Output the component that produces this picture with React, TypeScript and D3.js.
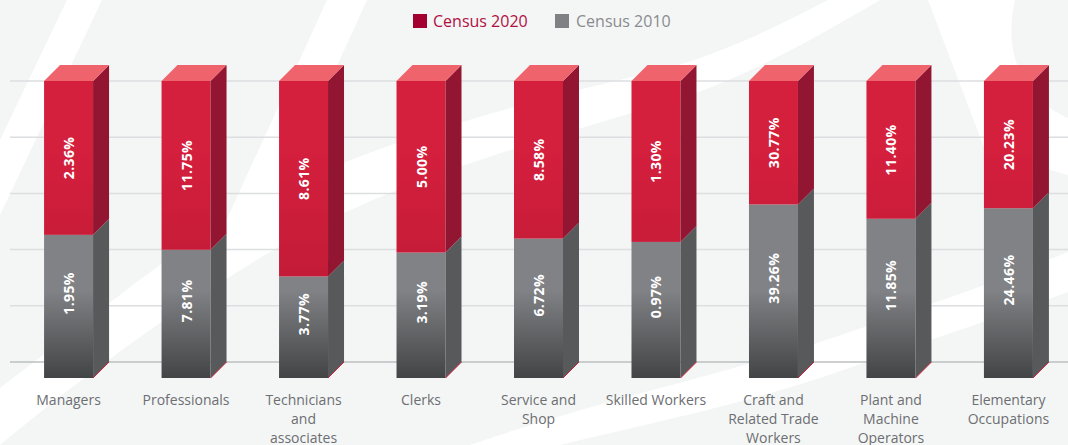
import React from "react";
import * as d3 from "d3";

const categories = [
  "Managers",
  "Professionals",
  "Technicians\nand\nassociates",
  "Clerks",
  "Service and\nShop",
  "Skilled Workers",
  "Craft and\nRelated Trade\nWorkers",
  "Plant and\nMachine\nOperators",
  "Elementary\nOccupations",
];
const census2020 = [2.36, 11.75, 8.61, 5.0, 8.58, 1.3, 30.77, 11.4, 20.23];
const census2010 = [1.95, 7.81, 3.77, 3.19, 6.72, 0.97, 39.26, 11.85, 24.46];
const seriesNames = ["Census 2020", "Census 2010"];
const gridTicks = [0, 20, 40, 60, 80, 100];

const W = 1068;
const H = 445;
const DEPTH = 16;

export default function App() {
  const x = d3
    .scaleBand<string>()
    .domain(categories)
    .range([10, 1067])
    .paddingInner(0.583)
    .paddingOuter(0.29);
  const y = d3.scaleLinear().domain([0, 100]).range([362, 81]);
  const bw = x.bandwidth();
  const base = y(0) + DEPTH; // front bottom
  const top = y(100);

  const bars = categories.map((c, i) => {
    const total = census2020[i] + census2010[i];
    const grayShare = (census2010[i] / total) * 100;
    return { c, i, x0: x(c) as number, yg: y(grayShare) };
  });

  const poly = (pts: number[][]) => pts.map((p) => p.join(",")).join(" ");

  return (
    <svg
      width={W}
      height={H}
      style={{ position: "absolute", left: 0, top: 0, display: "block" }}
      fontFamily="'Open Sans', 'Noto Sans', sans-serif"
    >
      <defs>
        <linearGradient id="grayFront" gradientUnits="userSpaceOnUse" x1="0" y1="290" x2="0" y2="378">
          <stop offset="0" stopColor="#818285" />
          <stop offset="1" stopColor="#434446" />
        </linearGradient>
        <linearGradient id="redFront" gradientUnits="userSpaceOnUse" x1="0" y1="150" x2="0" y2="285">
          <stop offset="0" stopColor="#d41f3d" />
          <stop offset="1" stopColor="#c21b37" />
        </linearGradient>
      </defs>
      <rect x={0} y={0} width={W} height={H} fill="#f4f6f6" />
      {/* decorative background stripes */}
      <g fill="#ffffff">
        <polygon points={poly([[67, 0], [102, 0], [0, 215], [0, 140]])} />
        <polygon points={poly([[327, 0], [367, 0], [262, 230], [222, 230]])} />
        <path d="M0,388 C90,320 170,250 260,200 C400,130 560,95 660,70 C720,55 780,25 828,0 L880,0 C820,35 760,70 690,95 C580,130 420,170 300,235 C200,290 90,370 0,445 Z" />
        <path d="M470,445 C600,400 720,375 811,345 C900,315 990,285 1068,252 L1068,292 C990,320 900,350 820,378 C720,410 620,430 560,445 Z" />
        <path d="M928,0 L1015,0 C1002,55 1025,100 1068,118 L1068,175 C1030,165 1000,150 985,150 Z" />
      </g>
      {/* gridlines */}
      <g>
        {gridTicks.map((t) => (
          <line
            key={t}
            x1={10}
            x2={W}
            y1={y(t)}
            y2={y(t)}
            stroke={t === 0 ? "#bdbfc1" : "#dcdedf"}
            strokeWidth={1.5}
          />
        ))}
      </g>
      {/* bars */}
      {bars.map(({ c, i, x0, yg }) => {
        const x1 = x0 + bw;
        const cx = x0 + bw / 2;
        const redMid = (top + yg) / 2;
        const grayMid = (yg + y(0)) / 2 - 5;
        return (
          <g key={c}>
            <rect x={x0} y={yg} width={bw} height={base - yg} fill="url(#grayFront)" />
            <rect x={x0} y={top} width={bw} height={yg - top} fill="url(#redFront)" />
            <polygon
              points={poly([[x1, yg], [x1 + DEPTH, yg - DEPTH], [x1 + DEPTH, base - DEPTH], [x1, base]])}
              fill="#58595b"
            />
            <polygon
              points={poly([[x1, top], [x1 + DEPTH, top - DEPTH], [x1 + DEPTH, yg - DEPTH], [x1, yg]])}
              fill="#921631"
            />
            <line x1={x1} y1={base} x2={x1 + DEPTH} y2={base - DEPTH} stroke="#d41e3d" strokeWidth={1} />
            <polygon
              points={poly([[x0, top], [x1, top], [x1 + DEPTH, top - DEPTH], [x0 + DEPTH, top - DEPTH]])}
              fill="#ef636d"
            />
            <text
              transform={`translate(${cx},${redMid}) rotate(-90)`}
              textAnchor="middle"
              dominantBaseline="central"
              fill="#ffffff"
              fontWeight={700}
              fontSize={14}
              letterSpacing={0.4}
            >
              {census2020[i].toFixed(2)}%
            </text>
            <text
              transform={`translate(${cx},${grayMid}) rotate(-90)`}
              textAnchor="middle"
              dominantBaseline="central"
              fill="#ffffff"
              fontWeight={700}
              fontSize={14}
              letterSpacing={0.4}
            >
              {census2010[i].toFixed(2)}%
            </text>
            <text textAnchor="middle" fill="#6d6e71" fontSize={14}>
              {c.split("\n").map((line, k) => (
                <tspan key={k} x={cx} y={405 + k * 19}>
                  {line}
                </tspan>
              ))}
            </text>
          </g>
        );
      })}
      {/* legend */}
      <g fontSize={16}>
        <rect x={413} y={14} width={14} height={14} fill="#a3002f" />
        <text x={433} y={27} fill="#b0103f">
          {seriesNames[0]}
        </text>
        <rect x={555} y={14} width={14} height={14} fill="#808184" />
        <text x={576} y={27} fill="#8a8b8e">
          {seriesNames[1]}
        </text>
      </g>
    </svg>
  );
}
